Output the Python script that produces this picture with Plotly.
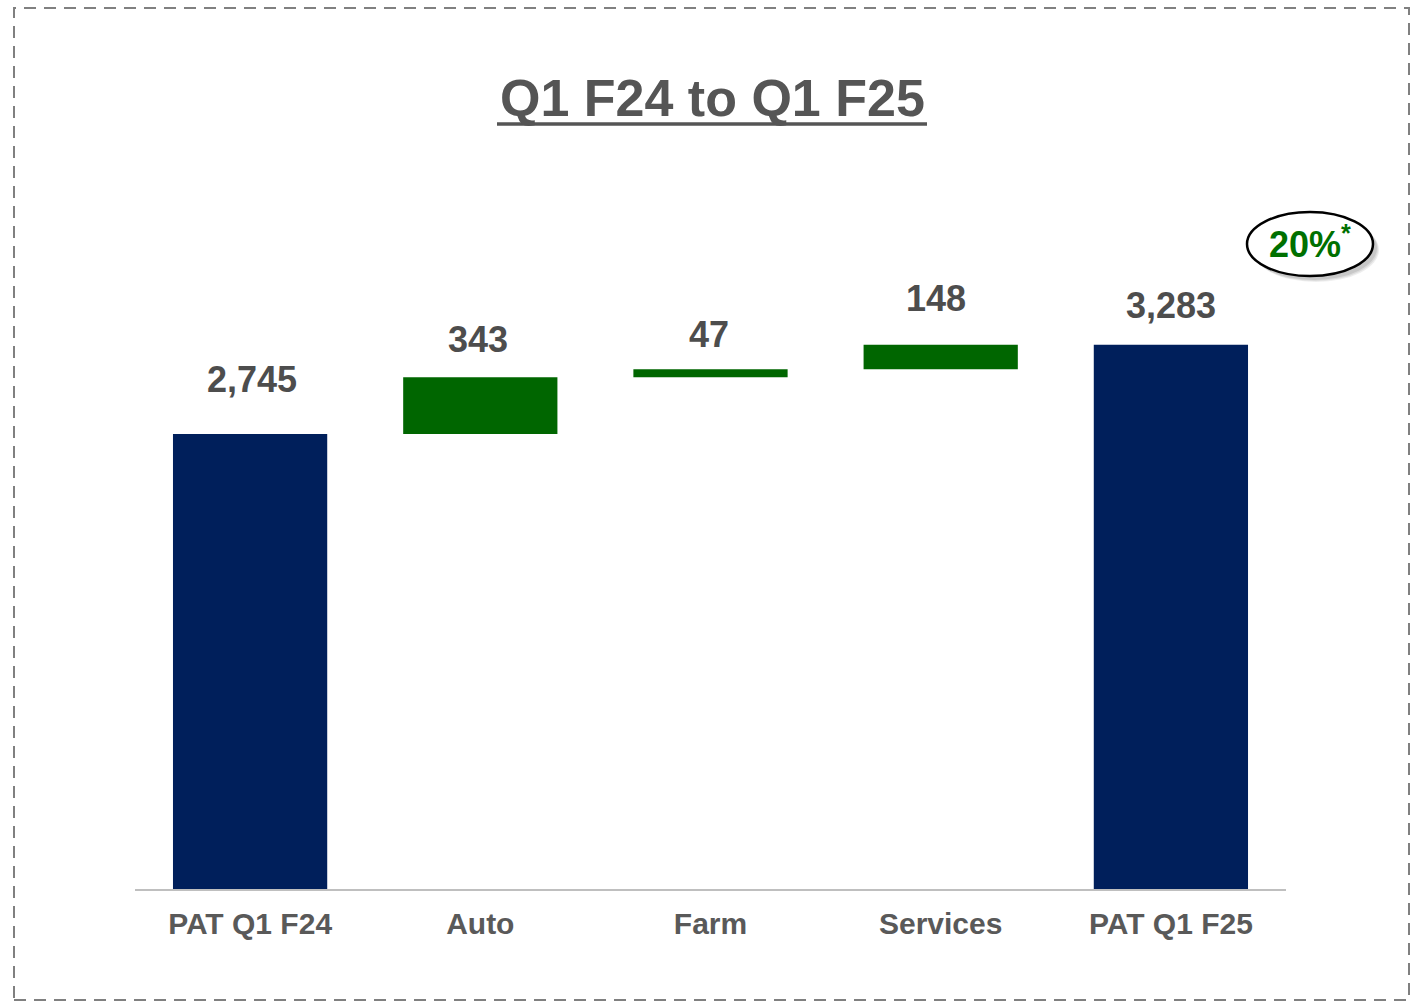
import plotly.graph_objects as go

# ---- data ----
categories = ["PAT Q1 F24", "Auto", "Farm", "Services", "PAT Q1 F25"]
values = [2745, 343, 47, 148, 3283]
measures = ["absolute", "relative", "relative", "relative", "total"]
value_labels = ["2,745", "343", "47", "148", "3,283"]
title_text = "Q1 F24 to Q1 F25"
growth_text = "20%"

# ---- layout constants ----
W, H = 1411, 1002
ML, MR, MT, MB = 135, 125, 200, 113
PW, PH = W - ML - MR, H - MT - MB
label_shift = [55, 38, 35, 46, 39]   # pixel offset of value labels above bar tops
label_xshift = [2, -2, -2, -5, 0]

NAVY = "#001F5B"
GREEN = "#006600"
GRAY_TXT = "#4D4D4D"


def px2paper(x, y):
    return (x - ML) / PW, (H - MB - y) / PH


# cumulative tops
tops = []
run = 0
for v, m in zip(values, measures):
    if m == "absolute":
        run = v
    elif m == "relative":
        run += v
    tops.append(run)

scale = 455 / 2745  # px per unit
ymax = PH / scale

fig = go.Figure()
fig.add_trace(go.Waterfall(
    x=categories, y=values, measure=measures,
    increasing=dict(marker=dict(color=GREEN, line=dict(width=0))),
    decreasing=dict(marker=dict(color="#C00000", line=dict(width=0))),
    totals=dict(marker=dict(color=NAVY, line=dict(width=0))),
    connector=dict(visible=False),
    width=0.67,
    showlegend=False,
    hoverinfo="skip",
))

annotations = []
for c, t, lab, s, xs in zip(categories, tops, value_labels, label_shift, label_xshift):
    annotations.append(dict(
        x=c, y=t, xref="x", yref="y", text=f"<b>{lab}</b>", showarrow=False,
        yanchor="middle", yshift=s, xshift=xs,
        font=dict(family="Liberation Sans, Arial", size=36, color=GRAY_TXT),
    ))

# title
tx, ty = px2paper(712, 98)
annotations.append(dict(
    x=tx, y=ty, xref="paper", yref="paper", text=f"<b>{title_text}</b>",
    showarrow=False, xanchor="center", yanchor="middle",
    font=dict(family="Liberation Sans, Arial", size=52, color="#555555"),
))

# growth bubble text
gx, gy = px2paper(1310, 242)
annotations.append(dict(
    x=gx, y=gy, xref="paper", yref="paper",
    text=f"<b>{growth_text}<sup>*</sup></b>",
    showarrow=False, xanchor="center", yanchor="middle",
    font=dict(family="Liberation Sans, Arial", size=36, color="#007000"),
))

shapes = []
# dashed border
x0, y0 = px2paper(14, 1000)
x1, y1 = px2paper(1409, 8)
shapes.append(dict(type="rect", xref="paper", yref="paper", x0=x0, y0=y0, x1=x1, y1=y1,
                   line=dict(color="#808080", width=2, dash="12px,8px"), layer="below"))
# title underline
ux0, uy = px2paper(497, 124)
ux1, _ = px2paper(927, 124)
shapes.append(dict(type="line", xref="paper", yref="paper", x0=ux0, x1=ux1, y0=uy, y1=uy,
                   line=dict(color="#555555", width=3.5)))
# bubble shadow (soft)
for d, a in [(6, 0.10), (5, 0.12), (4, 0.15)]:
    sx0, sy0 = px2paper(1247 + d, 276 + d)
    sx1, sy1 = px2paper(1373 + d, 212 + d)
    shapes.append(dict(type="circle", xref="paper", yref="paper", x0=sx0, y0=sy0, x1=sx1, y1=sy1,
                       fillcolor=f"rgba(90,90,90,{a})", line=dict(width=0), layer="below"))
# bubble
ex0, ey0 = px2paper(1247, 276)
ex1, ey1 = px2paper(1373, 212)
shapes.append(dict(type="circle", xref="paper", yref="paper", x0=ex0, y0=ey0, x1=ex1, y1=ey1,
                   fillcolor="white", line=dict(color="black", width=2.5), layer="below"))

fig.update_layout(
    width=W, height=H,
    margin=dict(l=ML, r=MR, t=MT, b=MB),
    paper_bgcolor="white", plot_bgcolor="white",
    annotations=annotations, shapes=shapes,
    xaxis=dict(
        showline=True, linecolor="#BFBFBF", linewidth=2, showgrid=False, zeroline=False,
        ticks="", ticklabelstandoff=7,
        tickfont=dict(family="Liberation Sans, Arial", size=30, color="#595959", weight="bold"),
        range=[-0.5, 4.5], fixedrange=True,
    ),
    yaxis=dict(visible=False, range=[0, ymax], showgrid=False, zeroline=False),
)

fig.write_html("out.html", config={"displayModeBar": False},
               post_script="document.body.style.margin='0px';")
